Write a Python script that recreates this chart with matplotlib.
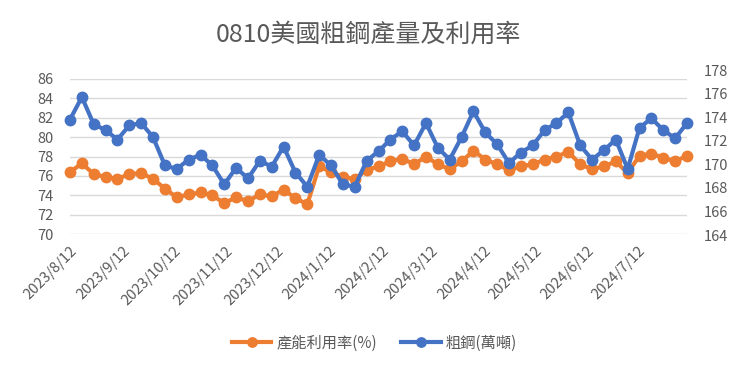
import matplotlib
matplotlib.use("Agg")
import matplotlib.pyplot as plt
import pandas as pd
import matplotlib.dates as mdates

plt.rcParams['font.family'] = ['Noto Sans CJK TC', 'DejaVu Sans']

# ---- data ----
start_date = "2023-08-12"
n_weeks = 53
dates = pd.date_range(start_date, periods=n_weeks, freq="7D")

utilization = [76.4, 77.3, 76.2, 75.9, 75.7, 76.2, 76.3, 75.7, 74.7, 73.8,
               74.1, 74.3, 74.0, 73.2, 73.8, 73.4, 74.1, 73.9, 74.6, 73.7,
               73.1, 77.0, 76.4, 75.9, 75.7, 76.6, 77.0, 77.5, 77.8, 77.2,
               78.0, 77.2, 76.7, 77.5, 78.6, 77.7, 77.2, 76.6, 77.0, 77.2,
               77.7, 78.0, 78.5, 77.2, 76.7, 77.0, 77.5, 76.3, 78.1, 78.3,
               77.9, 77.5, 78.1]

crude_steel = [173.8, 175.7, 173.4, 172.9, 172.1, 173.3, 173.5, 172.3, 169.9, 169.6,
               170.4, 170.8, 169.9, 168.3, 169.7, 168.8, 170.3, 169.8, 171.5, 169.3,
               168.1, 170.8, 169.9, 168.3, 168.1, 170.3, 171.1, 172.1, 172.8, 171.6,
               173.5, 171.4, 170.4, 172.3, 174.5, 172.7, 171.7, 170.1, 171.0, 171.6,
               172.9, 173.5, 174.4, 171.6, 170.4, 171.2, 172.1, 169.6, 173.1, 173.9,
               172.9, 172.2, 173.5]

tick_dates = ["2023-08-12", "2023-09-12", "2023-10-12", "2023-11-12", "2023-12-12",
              "2024-01-12", "2024-02-12", "2024-03-12", "2024-04-12", "2024-05-12",
              "2024-06-12", "2024-07-12"]
tick_labels = ["2023/8/12", "2023/9/12", "2023/10/12", "2023/11/12", "2023/12/12",
               "2024/1/12", "2024/2/12", "2024/3/12", "2024/4/12", "2024/5/12",
               "2024/6/12", "2024/7/12"]
left_ticks = [70, 72, 74, 76, 78, 80, 82, 84, 86]
right_ticks = [164, 166, 168, 170, 172, 174, 176, 178]

title = "0810美國粗鋼產量及利用率"
label_util = "產能利用率(%)"
label_steel = "粗鋼(萬噸)"

# ---- style ----
ORANGE = "#ED7D31"
BLUE = "#4472C4"
GRID = "#D9D9D9"
TXT = "#595959"

W, H = 741, 371
fig = plt.figure(figsize=(W / 100, H / 100), dpi=100)

L, R = 70, 687
ax = fig.add_axes([L / W, 1 - 234.2 / H, (R - L) / W, (234.2 - 79) / H])
ax2 = fig.add_axes([L / W, 1 - 235 / H, (R - L) / W, (235 - 70) / H], sharex=ax)
ax2.patch.set_alpha(0)

lw = 3.0
ms = 7.5
l1, = ax.plot(dates, utilization, color=ORANGE, lw=lw, marker="o", ms=ms,
              solid_joinstyle="round", clip_on=False)
l2, = ax2.plot(dates, crude_steel, color=BLUE, lw=lw, marker="o", ms=ms,
               solid_joinstyle="round", clip_on=False)

ax.set_ylim(70, 86)
ax.set_yticks(left_ticks)
ax2.set_ylim(164, 178)
ax2.set_yticks(right_ticks)
ax2.yaxis.tick_right()

ax.set_xlim(dates[0], dates[-1])
ax.set_xticks(pd.to_datetime(tick_dates))
ax.set_xticklabels(tick_labels, rotation=45, ha="right", rotation_mode="anchor")
plt.setp(ax2.get_xticklabels(), visible=False)
ax2.tick_params(axis="x", length=0)

for a in (ax, ax2):
    for s in a.spines.values():
        s.set_visible(False)

ax.grid(axis="y", color=GRID, lw=1.0)
ax.set_axisbelow(True)
ax.tick_params(axis="y", length=0, pad=12, labelsize=10.5, labelcolor=TXT)
ax.tick_params(axis="x", length=0, pad=7, labelsize=10.5, labelcolor=TXT)
ax2.tick_params(axis="y", length=0, pad=12, labelsize=10.5, labelcolor=TXT)

fig.text(0.497, 1 - 35 / H, title, ha="center", va="center", fontsize=18, color=TXT)

fig.legend([l1, l2], [label_util, label_steel], loc="center",
           bbox_to_anchor=(0.505, 1 - 343 / H), ncol=2, frameon=False,
           fontsize=11, labelcolor=TXT, handlelength=2.6, columnspacing=1.6,
           handletextpad=0.3, markerscale=0.9)

fig.savefig("out.png", dpi=100)
